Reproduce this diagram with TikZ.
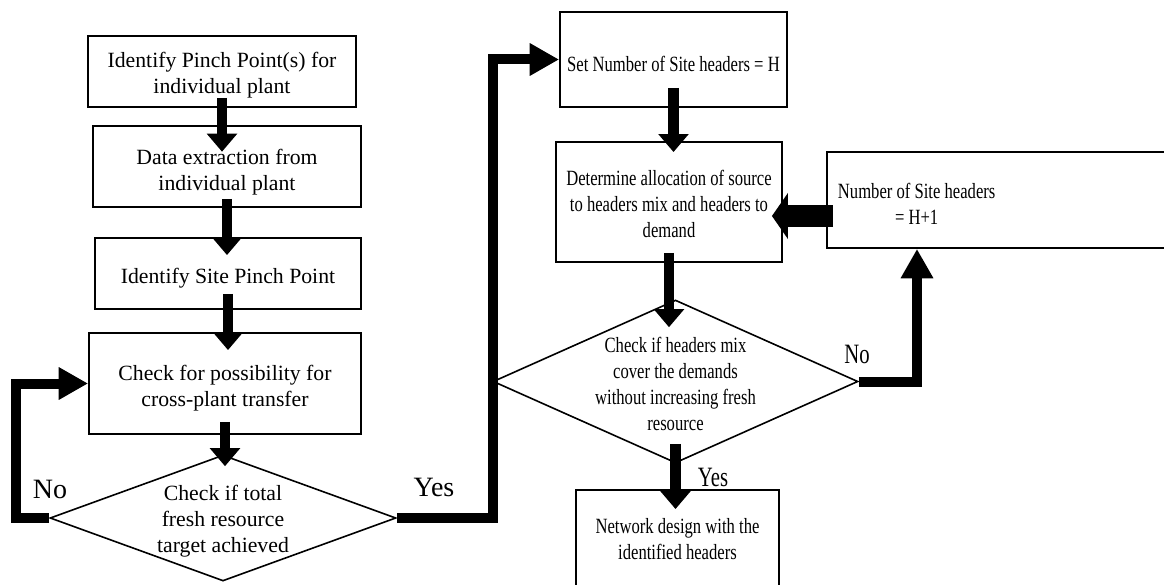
\documentclass[tikz,border=0pt]{standalone}
\usepackage{fontspec}
\setmainfont{Liberation Serif}
\newfontfamily\narrowserif[FakeStretch=0.765]{Liberation Serif}
\newfontfamily\tightserif[FakeStretch=0.74]{Liberation Serif}
\usetikzlibrary{arrows.meta,calc,shapes.geometric}
\tikzset{
  sink/.style={execute at begin node={\rule{0pt}{#1}}},
  box/.style={draw,line width=1.4pt,fill=white,align=center,inner sep=0pt,sink=18pt,
    font=\fontsize{16.3}{19.5}\selectfont},
  rbox/.style={box,sink=12pt,font=\narrowserif\fontsize{16.3}{19.5}\selectfont},
  decision/.style={diamond,draw,line width=1.2pt,fill=white,align=center,inner sep=0pt,
    inner ysep=-2.5pt,aspect=2.75,font=\fontsize{16.3}{19.5}\selectfont},
  rdecision/.style={decision,aspect=2.24,inner xsep=-2pt,inner ysep=-5pt,
    font=\narrowserif\fontsize{16.3}{19.5}\selectfont},
  flow/.style={line width=8pt,-{Triangle[width=22pt,length=13.5pt]}},
  route/.style={line width=7.5pt,-{Triangle[width=23pt,length=22pt]}},
  bigflow/.style={line width=16pt,-{Triangle[width=34pt,length=12pt]}},
  lbl/.style={inner sep=0pt,font=\fontsize{21}{24}\selectfont},
  rlbl/.style={lbl,font=\tightserif\fontsize{21}{24}\selectfont},
}
\begin{document}
\begin{tikzpicture}[x=0.75pt,y=-0.75pt]
  \useasboundingbox (0,0) rectangle (1164,585);
  \clip (0,0) rectangle (1164,585);
  % left column
  \node[box,sink=36.7pt,minimum width=201pt,minimum height=53.25pt] (plant) at (222,71.5) {Identify Pinch Point(s) for\\individual plant};
  \node[box,sink=38.9pt,minimum width=201pt,minimum height=60.75pt] (extract) at (227,166.5) {Data extraction from\\individual plant};
  \node[box,minimum width=199.5pt,minimum height=53.25pt] (sitepinch) at (228,273.5) {Identify Site Pinch Point};
  \node[box,sink=37.5pt,minimum width=204pt,minimum height=75.75pt] (cross) at (225,383.5) {Check for possibility for\\cross-plant transfer};
  \node[decision,sink=54.6pt,minimum width=259.5pt,minimum height=94.5pt] (target) at (223,518) {Check if total\\fresh resource\\target achieved};
  % right column
  \node[rbox,minimum width=170.25pt,minimum height=71.25pt] (headers) at (673.5,59.5) {Set Number of Site headers = H};
  \node[rbox,sink=53.9pt,minimum width=169.5pt,minimum height=90pt] (alloc) at (669,202) {Determine allocation of source\\to headers mix and headers to\\demand};
  \node[rdecision,sink=73.4pt,minimum width=273.75pt,minimum height=122.25pt] (cover) at (675.5,381.5) {Check if headers mix\\cover the demands\\without increasing fresh\\resource};
  \node[rbox,sink=0pt,minimum width=152.25pt,minimum height=74.25pt] (design) at (677.5,539.5) {Network design with the\\identified headers};
  \node[rbox,sink=34pt,align=left,anchor=west,minimum height=72pt,inner xsep=8.25pt] (hdrplus) at (826,200)
    {\begin{tabular}{@{}c@{}}Number of Site headers\\= H+1\end{tabular}\hspace*{150pt}};
  % arrows down the columns
  \draw[flow,shorten <=-7.5pt,shorten >=-20pt] (plant.south) -- (plant.south |- extract.north);
  \draw[flow,shorten <=-6.75pt,shorten >=-13.5pt] (extract.south) -- (extract.south |- sitepinch.north);
  \draw[flow,shorten <=-12pt,shorten >=-13.5pt] (sitepinch.south) -- (sitepinch.south |- cross.north);
  \draw[flow,shorten <=-9.75pt,shorten >=-9pt] (cross.south) -- (cross.south |- target.north);
  \draw[flow,shorten <=-15pt,shorten >=-8.25pt] (headers.south) -- (headers.south |- alloc.north);
  \draw[flow,shorten <=-7.5pt,shorten >=-21pt] (alloc.south) -- (alloc.south |- cover.north);
  \draw[flow,shorten <=-15pt,shorten >=-15pt] (cover.south) -- (cover.south |- design.north);
  % loops
  \draw[route] (target.west) -- ++(-33,0) |- (cross.west);
  \draw[route] (target.east) -- ++(96,0) |- (headers.west);
  \draw[route] (cover.east) -| ($(hdrplus.south west)+(91,0)$);
  \draw[bigflow,shorten <=-5.25pt,shorten >=-8.25pt] ([yshift=-12pt]hdrplus.west) -- ([yshift=-12pt]hdrplus.west -| alloc.east);
  % labels
  \node[lbl] (nolft) at (50,489) {No};
  \node[lbl] (yeslft) at (434,487) {Yes};
  \node[rlbl] (norgt) at (857,354) {No};
  \node[rlbl] (yesrgt) at (713,477) {Yes};
\end{tikzpicture}
\end{document}
